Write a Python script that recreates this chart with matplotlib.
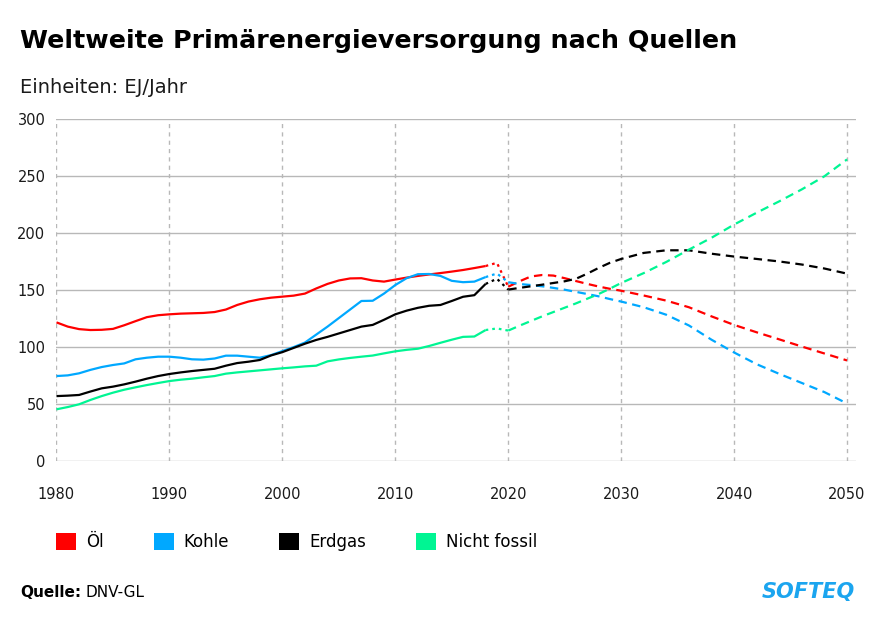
import numpy as np
import matplotlib
matplotlib.use("Agg")
import matplotlib.pyplot as plt
from matplotlib.patches import Patch

plt.rcParams['font.family'] = ['DejaVu Sans']

# Daten (EJ/Jahr)
years_hist = list(range(1980, 2019))
oel_hist = [121.7, 118.0, 115.8, 115.0, 115.2, 116.0, 119.2, 122.8, 126.3, 128.0,
            128.8, 129.4, 129.7, 130.0, 130.8, 133.0, 137.0, 140.0, 142.0, 143.4,
            144.3, 145.2, 147.0, 151.5, 155.5, 158.5, 160.3, 160.5, 158.5, 157.5,
            159.3, 161.0, 162.5, 163.8, 165.0, 166.3, 167.7, 169.4, 171.2]
kohle_hist = [74.6, 75.2, 77.0, 80.0, 82.5, 84.3, 85.7, 89.3, 90.7, 91.6,
              91.6, 90.7, 89.3, 89.0, 90.0, 92.5, 92.5, 91.6, 90.7, 93.0,
              96.5, 100.0, 104.0, 111.0, 118.0, 125.5, 133.0, 140.5, 140.7, 147.0,
              154.5, 160.5, 164.0, 164.2, 162.5, 158.2, 157.0, 157.5, 161.5]
erdgas_hist = [57.0, 57.4, 58.0, 61.0, 63.8, 65.3, 67.3, 69.7, 72.3, 74.6,
               76.4, 77.8, 79.0, 80.0, 81.0, 83.7, 86.0, 87.2, 88.7, 92.7,
               95.6, 99.3, 103.0, 106.3, 109.0, 112.0, 115.0, 118.0, 119.5, 124.0,
               128.8, 132.0, 134.5, 136.3, 137.0, 140.5, 144.2, 145.6, 155.5]
fossilfrei_hist = [45.4, 47.4, 49.8, 53.6, 57.0, 60.0, 62.6, 64.7, 66.7, 68.5,
                   70.2, 71.4, 72.3, 73.5, 74.6, 76.7, 77.8, 78.7, 79.6, 80.5,
                   81.4, 82.2, 83.1, 83.7, 87.5, 89.2, 90.5, 91.6, 92.6, 94.5,
                   96.3, 97.6, 98.6, 101.0, 103.8, 106.5, 109.0, 109.3, 115.0]

years_trans = [2018, 2019, 2020]
oel_trans = [171.2, 174.0, 153.0]
kohle_trans = [161.5, 164.6, 157.0]
erdgas_trans = [155.5, 160.0, 150.5]
fossilfrei_trans = [115.0, 116.4, 114.5]

years_proj = [2020, 2021, 2022, 2023, 2024, 2025, 2026, 2027, 2028, 2029, 2030,
              2032, 2034, 2036, 2038, 2040, 2042, 2044, 2046, 2048, 2050]
oel_proj = [153.0, 157.8, 162.0, 163.3, 162.8, 160.5, 158.0, 155.5, 153.2, 151.2, 149.5,
            145.3, 140.8, 135.0, 127.0, 119.5, 113.0, 106.8, 100.5, 94.4, 88.3]
kohle_proj = [157.0, 155.4, 154.5, 153.4, 152.0, 150.4, 148.5, 146.6, 144.6, 142.2, 140.0,
              135.0, 128.4, 119.0, 106.5, 95.3, 85.0, 76.5, 68.5, 60.5, 50.5]
erdgas_proj = [150.5, 152.0, 153.4, 154.8, 156.3, 157.8, 160.0, 164.5, 169.5, 174.0, 177.4,
               182.7, 185.0, 185.0, 182.0, 179.5, 177.4, 175.2, 172.5, 169.0, 164.5]
fossilfrei_proj = [114.5, 118.8, 122.9, 127.0, 130.8, 134.6, 138.4, 142.5, 146.6, 151.3, 156.3,
                   165.0, 174.8, 185.6, 196.0, 207.6, 218.0, 228.0, 238.5, 250.0, 264.8]

labels = ['Öl', 'Kohle', 'Erdgas', 'Nicht fossil']
colors = ['#ff0000', '#00a8ff', '#000000', '#00f593']

series = [
    (oel_hist, oel_trans, oel_proj),
    (kohle_hist, kohle_trans, kohle_proj),
    (erdgas_hist, erdgas_trans, erdgas_proj),
    (fossilfrei_hist, fossilfrei_trans, fossilfrei_proj),
]

fig = plt.figure(figsize=(8.8, 6.22), dpi=100)
ax = fig.add_axes([0.0642, 0.2588, 0.9086, 0.5494])

for (h, t, p), c in zip(series, colors):
    ax.plot(years_hist, h, color=c, lw=1.6, solid_capstyle='butt')
    ax.plot(years_trans, t, color=c, lw=1.6, linestyle=(0, (1.2, 1.8)))
    ax.plot(years_proj, p, color=c, lw=1.6, linestyle=(0, (3.8, 2.5)))

ax.set_xlim(1980, 2050.8)
ax.set_ylim(0, 300)
ax.set_xticks(range(1980, 2051, 10))
ax.set_yticks(range(0, 301, 50))
for s in ax.spines.values():
    s.set_visible(False)
ax.tick_params(length=0, labelsize=10.5, colors='#1a1a1a')
ax.tick_params(axis='y', pad=8)
ax.tick_params(axis='x', pad=19)
ax.yaxis.grid(True, color='#b8b8b8', lw=1, linestyle='-')
ax.xaxis.grid(True, color='#b8b8b8', lw=1, linestyle=(0, (3, 3)))
ax.set_axisbelow(True)

handles = [Patch(facecolor=c, edgecolor='none') for c in colors]
fig.legend(handles, labels, loc='center left', bbox_to_anchor=(0.0636, 0.128),
           ncol=4, frameon=False, fontsize=12, handlelength=1.2, handleheight=1.2,
           handletextpad=0.6, columnspacing=3.0, borderaxespad=0, borderpad=0)

fig.text(0.023, 0.923, 'Weltweite Primärenergieversorgung nach Quellen',
         fontsize=18.3, fontweight='bold', va='baseline', ha='left')
fig.text(0.023, 0.850, 'Einheiten: EJ/Jahr', fontsize=14, va='baseline', ha='left',
         color='#1a1a1a')

t1 = fig.text(0.023, 0.040, 'Quelle:', fontsize=11, fontweight='bold', va='baseline')
fig.canvas.draw()
bb = t1.get_window_extent()
fig.text(bb.x1 / fig.bbox.width + 0.005, 0.040, 'DNV-GL', fontsize=11, va='baseline')

fig.text(0.972, 0.038, 'SOFTEQ', fontsize=15, fontweight='bold', fontstyle='italic',
         color='#1ba5ef', va='baseline', ha='right')

fig.savefig('out.png', dpi=100)
